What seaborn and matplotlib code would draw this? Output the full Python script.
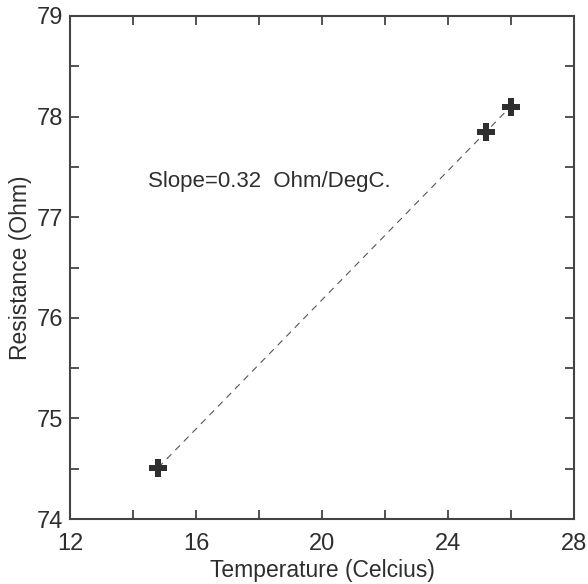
import pandas as pd
import matplotlib
matplotlib.use("Agg")
import matplotlib.pyplot as plt
import seaborn as sns
from matplotlib.ticker import MultipleLocator

# Data
temperature = [14.8, 25.2, 26.0]
resistance = [74.51, 77.85, 78.1]
df = pd.DataFrame({"Temperature": temperature, "Resistance": resistance})

sns.set_style("white")
plt.rcParams["font.family"] = ["Liberation Sans", "DejaVu Sans"]

fig = plt.figure(figsize=(5.88, 5.84), dpi=100)
ax = fig.add_axes([70 / 588, 65 / 584, 504 / 588, 503 / 584])

ink = "#2e2e2e"
sns.regplot(data=df, x="Temperature", y="Resistance", ax=ax, ci=None,
            marker="P", truncate=True,
            scatter_kws=dict(s=160, color=ink, marker="P", linewidths=0, alpha=1, zorder=3),
            line_kws=dict(color="#555555", lw=0.8, ls=(0, (6, 5))))

ax.text(14.48, 77.35, "Slope=0.32  Ohm/DegC.", fontsize=16, color=ink, va="center")

ax.set_xlim(12, 28)
ax.set_ylim(74, 79)
ax.xaxis.set_major_locator(MultipleLocator(4))
ax.xaxis.set_minor_locator(MultipleLocator(2))
ax.yaxis.set_major_locator(MultipleLocator(1))
ax.yaxis.set_minor_locator(MultipleLocator(0.5))
ax.tick_params(which="both", direction="in", top=True, right=True, bottom=True, left=True,
               color="#444444", width=1.3, length=6.5, labelsize=17, labelcolor=ink)
ax.tick_params(axis="x", which="both", pad=10)
ax.tick_params(axis="y", which="both", pad=5)
for s in ax.spines.values():
    s.set_color("#444444")
    s.set_linewidth(1.5)

ax.set_xlabel("Temperature (Celcius)", fontsize=16.5, color=ink, labelpad=3)
ax.set_ylabel("Resistance (Ohm)", fontsize=16.5, color=ink, labelpad=3)

plt.savefig("out.png", dpi=100)
